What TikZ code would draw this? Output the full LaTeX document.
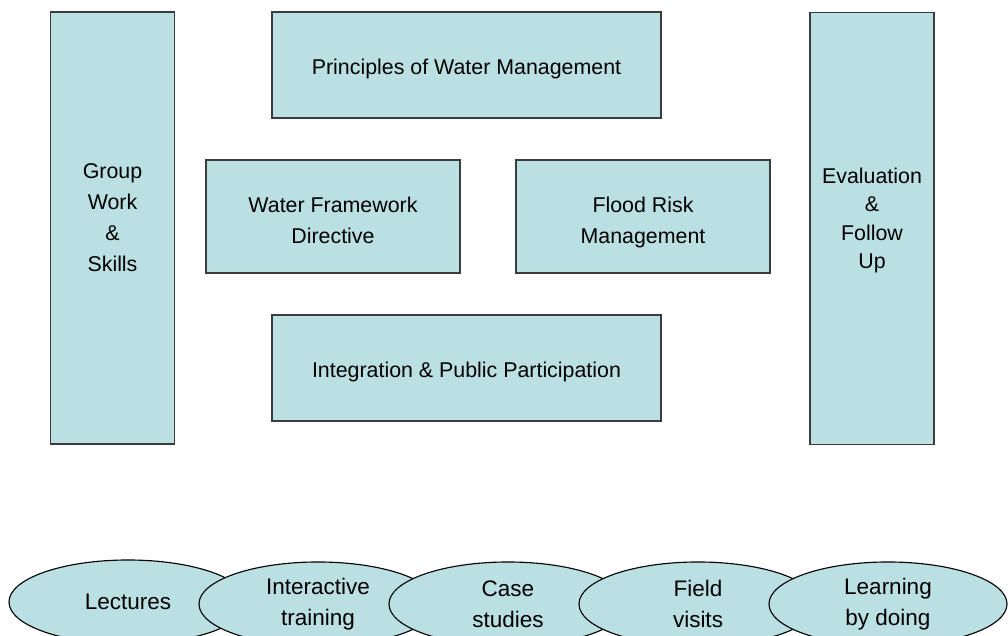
\documentclass[tikz,border=0pt]{standalone}
\usepackage{fontspec}
\setmainfont{Liberation Sans}
\usepackage{xcolor}
\usepackage{tikz}
\usetikzlibrary{shapes, positioning}
\definecolor{wmblue}{RGB}{187,224,227}
\definecolor{wmline}{RGB}{60,60,60}

\begin{document}
\begin{tikzpicture}[x=0.025cm, y=-0.025cm,
        box/.style={draw=wmline, fill=wmblue, line width=0.8pt, inner sep=0pt},
        boxtext/.style={align=center, inner sep=0pt, font=\fontsize{15.2}{22}\selectfont},
        tallbox/.style={box, minimum width=3.1cm, minimum height=10.8cm},
        widebox/.style={box, minimum width=9.725cm, minimum height=2.65cm},
        midbox/.style={box, minimum width=6.35cm, minimum height=2.825cm},
        method/.style={ellipse, draw=black, fill=wmblue, line width=0.8pt, inner sep=0pt,
                    minimum width=5.95cm, minimum height=2.1cm, align=center,
                    font=\fontsize{16}{22}\selectfont}]
                \useasboundingbox (0,0) rectangle (1008,636);
                \node[tallbox, label={[boxtext, yshift=0.25cm]center:Group\\Work\\\&\\Skills}] (groupwork) at (112.5,228) {};
                \node[tallbox, label={[boxtext, yshift=0.2cm, font=\fontsize{15.2}{20}\selectfont]center:Evaluation\\\&\\Follow\\Up}] (evaluation) at (872,228.5) {};
                \node[widebox, label={[boxtext, yshift=-0.11cm]center:Principles of Water Management}] (principles) at (466.5,65) {};
                \node[midbox, label={[boxtext, yshift=-0.1cm]center:Water Framework\\Directive}] (wfd) at (333,216.5) {};
                \node[midbox, label={[boxtext, yshift=-0.15cm]center:Flood Risk\\Management}] (floodrisk) at (643,216.5) {};
                \node[widebox, label={[boxtext, yshift=-0.09cm]center:Integration \& Public Participation}] (integration) at (466.5,368) {};
                % learning methods, each one laps over the one before
                \node[method] (lectures)    at (128,602) {\raisebox{0pt}{Lectures}};
                \node[method] (interactive) at (318,604) {Interactive\\training};
                \node[method] (casestudies) at (508,604) {Case\\studies};
                \node[method] (fieldvisits) at (698,604) {Field\\visits};
                \node[method] (bydoing)     at (888,604) {Learning\\by doing};
            \end{tikzpicture}
\end{document}
